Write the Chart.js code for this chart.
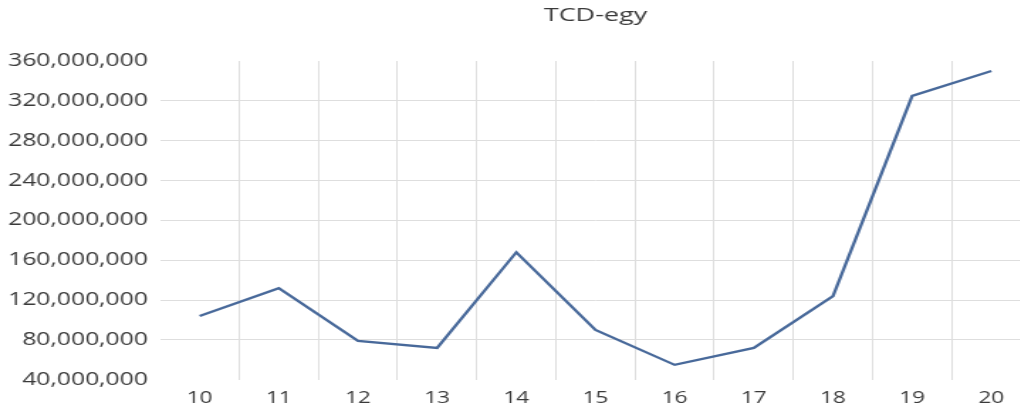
<!DOCTYPE html>
<html>
<head>
<meta charset="utf-8">
<script src="https://cdn.jsdelivr.net/npm/chart.js@4"></script>
<style>
  html, body { margin: 0; padding: 0; width: 1020px; height: 409px; overflow: hidden; background: #fff; }
  /* the chart is drawn narrow and widened horizontally */
  #wrap { width: 726px; height: 409px; transform: scaleX(1.42); transform-origin: 0 0; }
  canvas { display: block; }
</style>
</head>
<body>
<div id="wrap"><canvas id="chart" width="726" height="409"></canvas></div>
<script>
// Series data
const categories = ['10', '11', '12', '13', '14', '15', '16', '17', '18', '19', '20'];
const values = [104e6, 132e6, 79e6, 72e6, 168e6, 90e6, 55e6, 72e6, 124e6, 325e6, 350e6];

// Value axis range and step
const yMin = 40e6;
const yMax = 360e6;
const yStep = 40e6;

const titleText = 'TCD-egy';

const textColor = '#3a3a3a';
const gridColor = '#dedede';
const lineColor = '#48699a';

new Chart(document.getElementById('chart'), {
  type: 'line',
  data: {
    labels: categories,
    datasets: [{
      data: values,
      borderColor: lineColor,
      borderWidth: 2.3,
      pointRadius: 0,
      tension: 0,
      fill: false
    }]
  },
  options: {
    responsive: false,
    animation: false,
    layout: { padding: { left: 0, right: 0, top: 0, bottom: 1 } },
    plugins: {
      legend: { display: false },
      tooltip: { enabled: false },
      title: {
        display: true,
        text: titleText,
        fullSize: false,
        color: textColor,
        font: { family: "'Open Sans', sans-serif", size: 19, weight: 'normal' },
        padding: { top: 4.5, bottom: 33.7 }
      }
    },
    scales: {
      x: {
        offset: true,
        border: { display: false },
        afterFit: (scale) => { scale.height = 28.2; },
        grid: {
          offset: true,
          drawTicks: false,
          color: (ctx) => (ctx.index === 0 ? 'rgba(0,0,0,0)' : gridColor),
          lineWidth: 1
        },
        ticks: {
          color: textColor,
          padding: 9,
          maxRotation: 0,
          autoSkip: false,
          font: { family: "'Open Sans', sans-serif", size: 16 }
        }
      },
      y: {
        min: yMin,
        max: yMax,
        border: { display: false },
        afterFit: (scale) => { scale.width = 112.7; },
        grid: {
          drawTicks: false,
          color: (ctx) => {
            const v = ctx.tick && ctx.tick.value;
            return (v === yMin || v === yMax) ? 'rgba(0,0,0,0)' : gridColor;
          },
          lineWidth: 1
        },
        ticks: {
          stepSize: yStep,
          color: textColor,
          padding: 8.5,
          font: { family: "'Open Sans', sans-serif", size: 17.4 },
          callback: (v) => Number(v).toLocaleString('en-US')
        }
      }
    }
  }
});
</script>
</body>
</html>
